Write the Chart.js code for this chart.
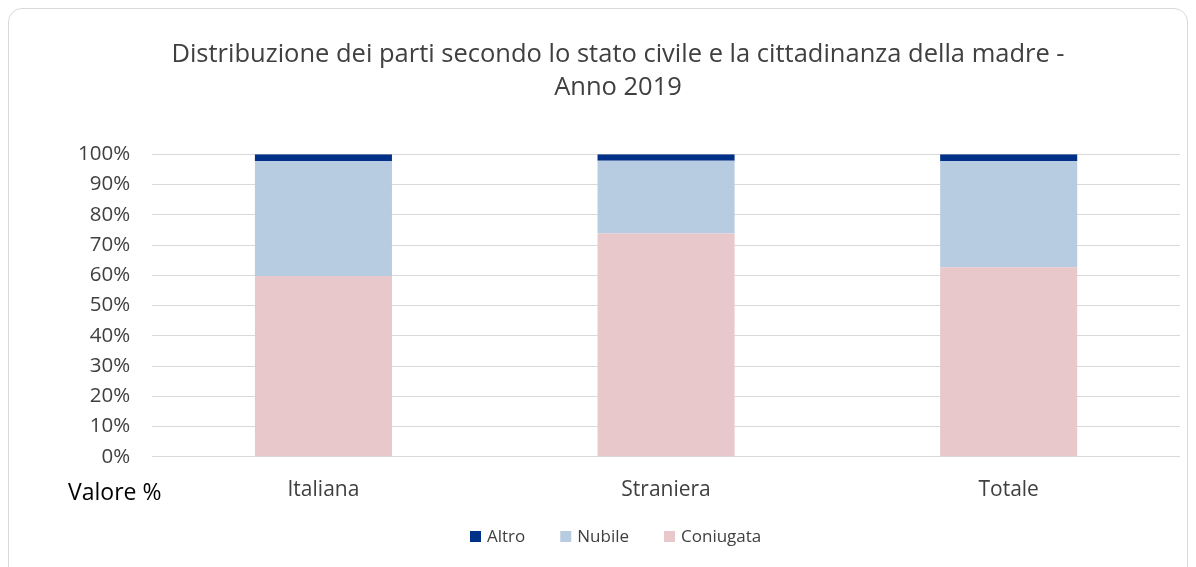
<!DOCTYPE html>
<html lang="it">
<head>
<meta charset="UTF-8">
<script src="https://cdn.jsdelivr.net/npm/chart.js"></script>
<title>Distribuzione dei parti</title>
<style>
  html, body { margin: 0; padding: 0; background: #fff; }
  .cornice {
    position: absolute; left: 8px; top: 8px; width: 1180px; height: 580px;
    border: 1px solid #d9d9d9; border-radius: 14px; box-sizing: border-box;
  }
  .contenitore { position: absolute; left: 0; top: 0; width: 1196px; height: 567px; }
</style>
</head>
<body>
<div class="cornice"></div>
<div class="contenitore"><canvas id="grafico"></canvas></div>
<script>
  // dati (percentuali)
  var cittadinanza = ['Italiana', 'Straniera', 'Totale'];
  var coniugata = [59.8, 73.8, 62.7];
  var nubile = [37.9, 24.1, 35.0];
  var altro = [2.3, 2.1, 2.3];
  var tickY = [0, 10, 20, 30, 40, 50, 60, 70, 80, 90, 100];

  var font = '"Open Sans", sans-serif';
  var grigio = '#404040';

  // etichetta "Valore %" e legenda in basso (stile Excel, voci distanziate)
  var extra = {
    id: 'extra',
    afterDraw: function (chart) {
      var ctx = chart.ctx;
      ctx.save();
      ctx.font = '23px ' + font;
      ctx.fillStyle = '#000';
      ctx.textAlign = 'left';
      ctx.textBaseline = 'middle';
      ctx.fillText('Valore %', 68, 493);

      ctx.font = '17px ' + font;
      ctx.fillStyle = grigio;
      var x = 470, y = 537;
      var ds = chart.data.datasets.slice().reverse();
      ds.forEach(function (d) {
        ctx.fillStyle = d.backgroundColor;
        ctx.fillRect(x, y - 6, 11, 11);
        ctx.fillStyle = grigio;
        ctx.fillText(d.label, x + 17, y);
        x += 17 + ctx.measureText(d.label).width + 35;
      });
      ctx.restore();
    }
  };

  new Chart(document.getElementById('grafico'), {
    type: 'bar',
    data: {
      labels: cittadinanza,
      datasets: [
        { label: 'Coniugata', data: coniugata, backgroundColor: '#e8c8ca' },
        { label: 'Nubile', data: nubile, backgroundColor: '#b7cbe1' },
        { label: 'Altro', data: altro, backgroundColor: '#003087' }
      ]
    },
    options: {
      responsive: true,
      maintainAspectRatio: false,
      animation: false,
      layout: { padding: { left: 56, right: 16, top: 22, bottom: 51 } },
      datasets: { bar: { categoryPercentage: 1, barPercentage: 0.4 } },
      plugins: {
        title: {
          display: true,
          text: ['Distribuzione dei parti secondo lo stato civile e la cittadinanza della madre -', 'Anno 2019'],
          color: grigio,
          font: { family: font, size: 25.5, weight: 'normal', lineHeight: 1.3 },
          padding: { top: 16, bottom: 50 }
        },
        legend: { display: false },
        tooltip: { enabled: false }
      },
      scales: {
        x: {
          stacked: true,
          grid: { display: false },
          border: { display: false },
          ticks: { color: grigio, font: { family: font, size: 21 }, padding: 13 }
        },
        y: {
          stacked: true,
          min: 0, max: 100,
          afterBuildTicks: function (axis) { axis.ticks = tickY.map(function (v) { return { value: v }; }); },
          grid: { color: '#d9d9d9', lineWidth: 1, drawTicks: false },
          border: { display: false },
          ticks: {
            color: grigio, padding: 22,
            font: { family: font, size: 20.5 },
            callback: function (v) { return v + '%'; }
          }
        }
      }
    },
    plugins: [extra]
  });
</script>
</body>
</html>
